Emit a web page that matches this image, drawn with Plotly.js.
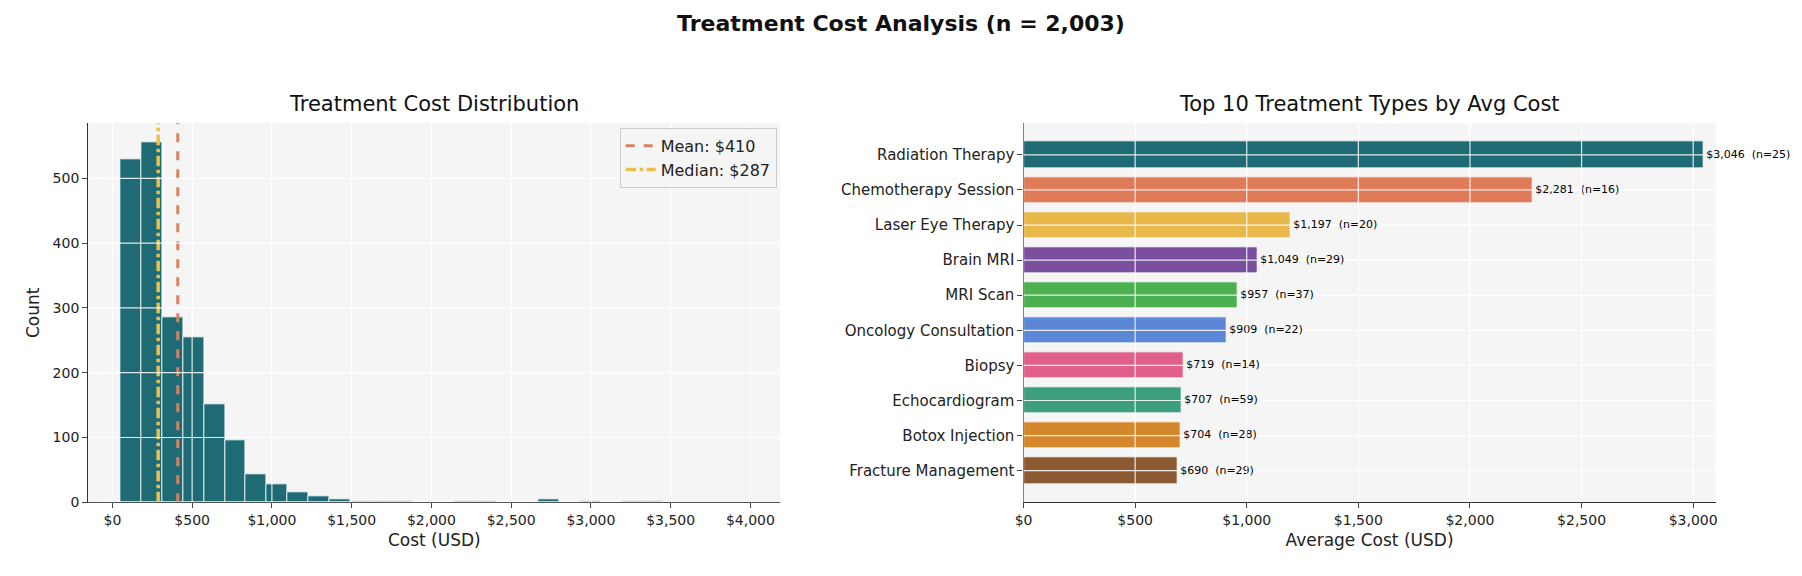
<!DOCTYPE html>
<html>
<head>
<meta charset="utf-8">
<script src="https://cdn.plot.ly/plotly-3.0.1.min.js"></script>
<style>body{margin:0;background:#fff}#chart{width:1802px;height:576px}</style>
</head>
<body>
<div id="chart"></div>
<script>
// histogram: bins of $131 starting at $50
const BIN_START = 50;
const BIN_WIDTH = 131;
const binCounts = [530, 555, 285, 254, 152, 96, 43, 28, 16, 9, 4, 2, 2, 1, 0, 0, 2, 1, 0, 0, 4, 0, 2, 0, 2, 2];
const meanCost = 410;
const medianCost = 287;

const treatments = ["Radiation Therapy", "Chemotherapy Session", "Laser Eye Therapy", "Brain MRI", "MRI Scan",
  "Oncology Consultation", "Biopsy", "Echocardiogram", "Botox Injection", "Fracture Management"];
const avgCost = [3046, 2281, 1197, 1049, 957, 909, 719, 707, 704, 690];
const counts = [25, 16, 20, 29, 37, 22, 14, 59, 28, 29];
const barColors = ["#1f6b75", "#e07b5a", "#e8b84b", "#7a4f9e", "#4caf50", "#5b87d6", "#e0608a", "#3d9e80", "#d4872b", "#8b5a33"];

const histTicks = [0, 500, 1000, 1500, 2000, 2500, 3000, 3500, 4000];
const countTicks = [0, 100, 200, 300, 400, 500];
const avgTicks = [0, 500, 1000, 1500, 2000, 2500, 3000];

const binCenters = binCounts.map((_, i) => BIN_START + BIN_WIDTH * (i + 0.5));
const fmt = v => "$" + v.toLocaleString("en-US");

const data = [
  {
    type: "bar", x: binCenters, y: binCounts, width: BIN_WIDTH,
    marker: { color: "#1f6b75", line: { color: "#ffffff", width: 0.8 } },
    xaxis: "x", yaxis: "y", showlegend: false, hoverinfo: "x+y"
  },
  {
    type: "scatter", mode: "lines", x: [meanCost, meanCost], y: [0, 600],
    line: { color: "#d9825f", width: 3, dash: "dash" }, name: "Mean: " + fmt(meanCost),
    xaxis: "x", yaxis: "y"
  },
  {
    type: "scatter", mode: "lines", x: [medianCost, medianCost], y: [0, 600],
    line: { color: "#e8c04a", width: 3.5, dash: "dashdot" }, name: "Median: " + fmt(medianCost),
    xaxis: "x", yaxis: "y"
  },
  {
    type: "bar", orientation: "h", y: treatments, x: avgCost, width: 0.75,
    marker: { color: barColors, line: { color: "#ffffff", width: 0.8 } },
    text: avgCost.map((v, i) => fmt(v) + "  (n=" + counts[i] + ")"),
    textposition: "outside", cliponaxis: false,
    textfont: { size: 11, color: "#000" },
    xaxis: "x2", yaxis: "y2", showlegend: false
  }
];

// white grid drawn over the bars, as in the reference
const gridLine = { color: "rgba(255,255,255,0.85)", width: 1.2 };
const shapes = [];
histTicks.forEach(v => shapes.push({ type: "line", layer: "above", xref: "x", yref: "y domain", x0: v, x1: v, y0: 0, y1: 1, line: gridLine }));
countTicks.forEach(v => shapes.push({ type: "line", layer: "above", xref: "x domain", yref: "y", x0: 0, x1: 1, y0: v, y1: v, line: gridLine }));
avgTicks.forEach(v => shapes.push({ type: "line", layer: "above", xref: "x2", yref: "y2 domain", x0: v, x1: v, y0: 0, y1: 1, line: gridLine }));
treatments.forEach((t, i) => {
  shapes.push({ type: "line", layer: "below", xref: "x2 domain", yref: "y2", x0: 0, x1: 1, y0: i, y1: i, line: { color: "#ffffff", width: 1.2 } });
  shapes.push({ type: "line", layer: "above", xref: "x2", yref: "y2", x0: 0, x1: avgCost[i], y0: i, y1: i, line: gridLine });
});

const tickFont = { family: "DejaVu Sans", size: 14, color: "#222" };
const layout = {
  width: 1802, height: 576,
  margin: { l: 0, r: 0, t: 0, b: 0 },
  paper_bgcolor: "#ffffff", plot_bgcolor: "#f5f5f5",
  font: { family: "DejaVu Sans", color: "#222" },
  bargap: 0,
  shapes: shapes,
  title: { text: "<b>Treatment Cost Analysis (n = 2,003)</b>", font: { size: 22, color: "#111" }, x: 0.5, y: 0.96, yanchor: "middle" },
  xaxis: {
    domain: [0.049, 0.433], range: [-151, 4187], tickvals: histTicks, ticktext: histTicks.map(fmt),
    tickfont: tickFont, ticks: "outside", ticklen: 5, showline: true, linecolor: "#333", linewidth: 1.3,
    gridcolor: "#ffffff", zeroline: false,
    title: { text: "Cost (USD)", font: { size: 17 }, standoff: 6 }
  },
  yaxis: {
    domain: [0.128, 0.786], range: [0, 585], tickvals: countTicks, tickfont: tickFont, ticks: "outside", ticklen: 5,
    showline: true, linecolor: "#333", linewidth: 1.3, gridcolor: "#ffffff", zeroline: false,
    title: { text: "Count", font: { size: 17 }, standoff: 8 }
  },
  xaxis2: {
    anchor: "y2", domain: [0.568, 0.952], range: [0, 3100], tickvals: avgTicks, ticktext: avgTicks.map(fmt),
    tickfont: tickFont, ticks: "outside", ticklen: 5, showline: true, linecolor: "#333", linewidth: 1.3,
    gridcolor: "#ffffff", zeroline: false,
    title: { text: "Average Cost (USD)", font: { size: 17 }, standoff: 6 }
  },
  yaxis2: {
    anchor: "x2", domain: [0.128, 0.786], autorange: false, range: [9.9, -0.9],
    tickfont: { family: "DejaVu Sans", size: 15, color: "#222" },
    ticks: "outside", ticklen: 5, showline: true, linecolor: "#333", linewidth: 1.3, gridcolor: "#ffffff"
  },
  legend: {
    x: 0.431, xanchor: "right", y: 0.778, yanchor: "top", bgcolor: "rgba(245,245,245,0.9)",
    bordercolor: "#cccccc", borderwidth: 1, font: { size: 16 }
  },
  annotations: [
    { text: "Treatment Cost Distribution", x: 0.241, y: 0.795, xref: "paper", yref: "paper", xanchor: "center", yanchor: "bottom", showarrow: false, font: { size: 21, color: "#111" } },
    { text: "Top 10 Treatment Types by Avg Cost", x: 0.76, y: 0.795, xref: "paper", yref: "paper", xanchor: "center", yanchor: "bottom", showarrow: false, font: { size: 21, color: "#111" } }
  ]
};

Plotly.newPlot("chart", data, layout, { displayModeBar: false });
</script>
</body>
</html>
